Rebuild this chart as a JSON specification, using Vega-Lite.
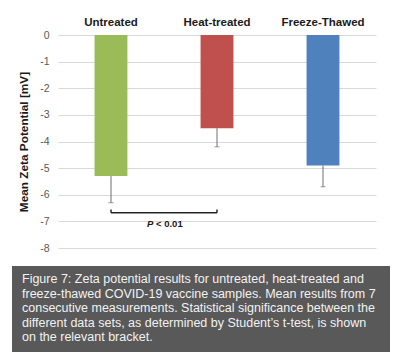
{
  "$schema": "https://vega.github.io/schema/vega-lite/v6.json",
  "background": "white",
  "padding": {"left": 12, "top": 16, "right": 10, "bottom": 5},
  "config": {
    "font": "Liberation Sans",
    "view": {"stroke": null}
  },
  "spacing": 12,
  "vconcat": [
    {
      "spacing": 5,
      "hconcat": [
        {
          "width": 1,
          "height": 213,
          "data": {"values": [{"blank": ""}]},
          "mark": {"type": "text"},
          "encoding": {"text": {"field": "blank"}}
        },
        {
          "width": 318,
          "height": 213,
          "data": {"values": [
            {"group": "Untreated", "mean": -5.3, "low": -6.3},
            {"group": "Heat-treated", "mean": -3.5, "low": -4.2},
            {"group": "Freeze-Thawed", "mean": -4.9, "low": -5.7}
          ]},
          "encoding": {
            "x": {
              "field": "group", "type": "nominal",
              "scale": {"domain": ["Untreated", "Heat-treated", "Freeze-Thawed"], "paddingInner": 0.69, "paddingOuter": 0.345},
              "axis": {"orient": "top", "title": null, "domain": false, "ticks": false, "tickSize": 0,
                       "labelAngle": 0, "labelFontSize": 11.5, "labelFontWeight": "bold", "labelColor": "#1a1a1a", "labelPadding": 8}
            },
            "y": {"field": "mean", "type": "quantitative",
                  "scale": {"domain": [-8, 0], "nice": false},
                  "axis": {"values": [0, -1, -2, -3, -4, -5, -6, -7, -8], "labelExpr": "'' + datum.value", "domain": false, "ticks": false, "tickSize": 0,
                           "gridColor": "#d9d9d9", "gridWidth": 1,
                           "labelColor": "#595959", "labelFontSize": 10.5, "labelPadding": 9,
                           "title": "Mean Zeta Potential [mV]", "titleFontSize": 11.8, "titleFontWeight": "bold", "titleColor": "#1a1a1a", "titlePadding": 10}}
          },
          "layer": [
            {
              "mark": {"type": "bar"},
              "encoding": {
                "color": {"field": "group", "type": "nominal",
                          "scale": {"domain": ["Untreated", "Heat-treated", "Freeze-Thawed"], "range": ["#9bbb59", "#c0504d", "#4f81bd"]},
                          "legend": null}
              }
            },
            {
              "mark": {"type": "rule", "color": "#6e6e6e", "strokeWidth": 1},
              "encoding": {
                "y2": {"field": "low"}
              }
            },
            {
              "mark": {"type": "tick", "color": "#6e6e6e", "thickness": 1, "size": 5},
              "encoding": {
                "y": {"field": "low", "type": "quantitative"}
              }
            },
            {
              "data": {"values": [{"a": "Untreated", "b": "Heat-treated", "y": -6.68, "top": -6.55, "label": "P", "rest": "< 0.01", "ty": -7.08}]},
              "layer": [
                {
                  "mark": {"type": "rule", "color": "#262626", "strokeWidth": 1.5},
                  "encoding": {
                    "x": {"field": "a", "type": "nominal"},
                    "x2": {"field": "b"},
                    "y": {"field": "y", "type": "quantitative"}
                  }
                },
                {
                  "mark": {"type": "rule", "color": "#262626", "strokeWidth": 1.5},
                  "encoding": {
                    "x": {"field": "a", "type": "nominal"},
                    "y": {"field": "y", "type": "quantitative"},
                    "y2": {"field": "top"}
                  }
                },
                {
                  "mark": {"type": "rule", "color": "#262626", "strokeWidth": 1.5},
                  "encoding": {
                    "x": {"field": "b", "type": "nominal"},
                    "y": {"field": "y", "type": "quantitative"},
                    "y2": {"field": "top"}
                  }
                },
                {
                  "mark": {"type": "text", "fontWeight": "bold", "fontStyle": "italic", "fontSize": 9.5, "align": "left", "baseline": "middle", "dx": 36, "color": "#1a1a1a"},
                  "encoding": {
                    "x": {"field": "a", "type": "nominal"},
                    "y": {"field": "ty", "type": "quantitative"},
                    "text": {"field": "label"}
                  }
                },
                {
                  "mark": {"type": "text", "fontWeight": "bold", "fontSize": 9.5, "align": "left", "baseline": "middle", "dx": 45, "color": "#1a1a1a"},
                  "encoding": {
                    "x": {"field": "a", "type": "nominal"},
                    "y": {"field": "ty", "type": "quantitative"},
                    "text": {"field": "rest"}
                  }
                }
              ]
            }
          ]
        }
      ]
    },
    {
      "width": 378,
      "height": 86,
      "view": {"fill": "#595959", "stroke": null},
      "data": {"values": [
        {"caption": "Figure 7: Zeta potential results for untreated, heat-treated and\nfreeze-thawed COVID-19 vaccine samples. Mean results from 7\nconsecutive measurements. Statistical significance between the\ndifferent data sets, as determined by Student\u2019s t-test, is shown\non the relevant bracket."}
      ]},
      "mark": {"type": "text", "align": "left", "baseline": "top", "lineBreak": "\n", "lineHeight": 14.5, "fontSize": 12.5, "color": "#f2f2f2"},
      "encoding": {
        "x": {"value": 10},
        "y": {"value": 7},
        "text": {"field": "caption"}
      }
    }
  ]
}
